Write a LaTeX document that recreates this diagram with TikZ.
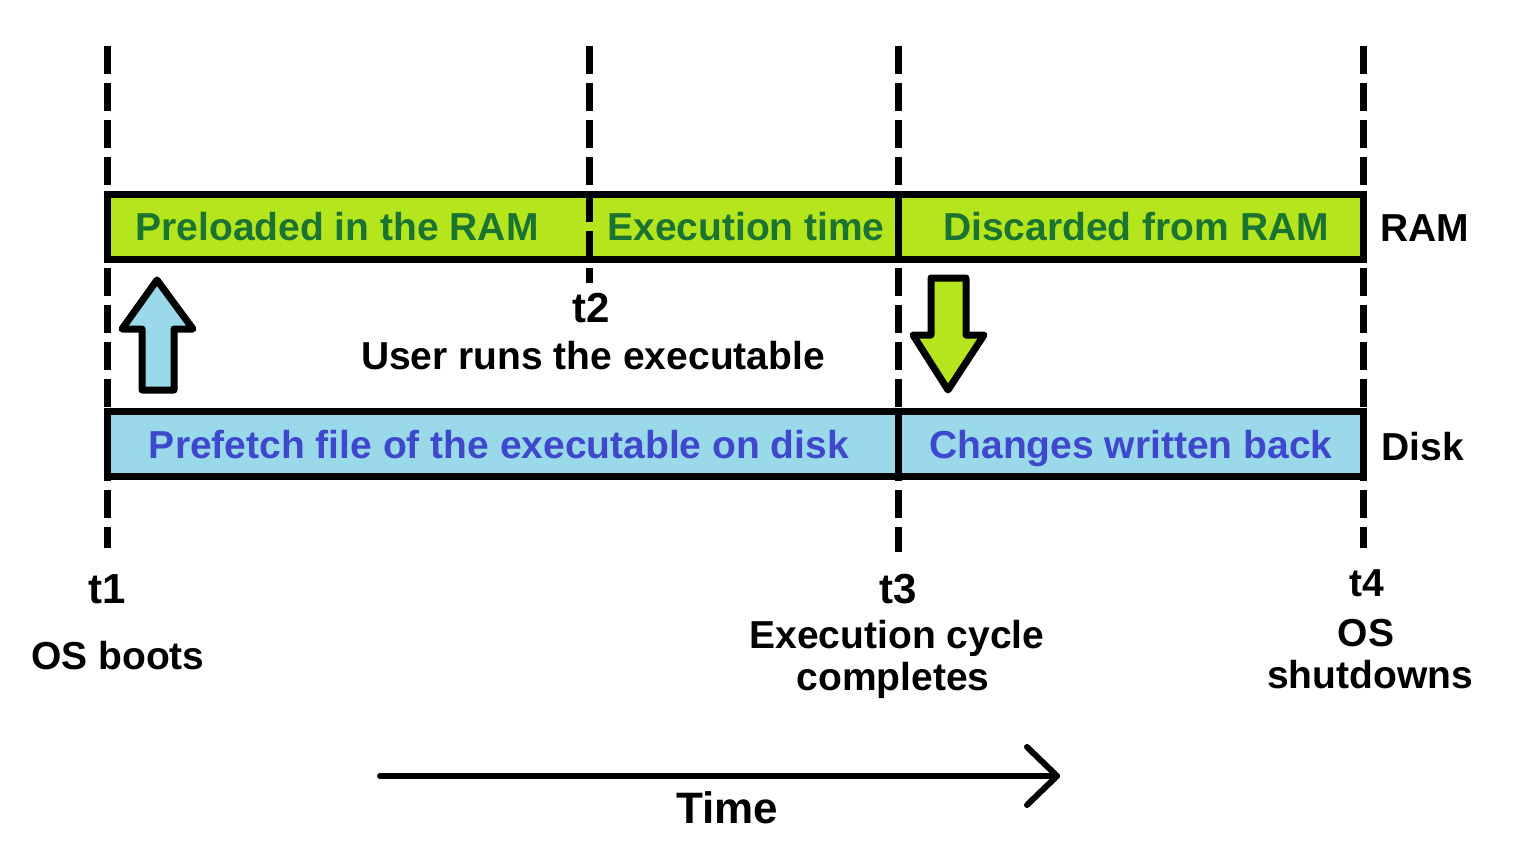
\documentclass[tikz,border=0pt]{standalone}
\usepackage{fontspec}
\setmainfont{Liberation Sans}
\definecolor{lime}{HTML}{B5E61D}
\definecolor{ltblue}{HTML}{99D9EA}
\definecolor{dgreen}{HTML}{1B7332}
\definecolor{indigo}{HTML}{3F48CC}
\begin{document}
\begin{tikzpicture}[x=1pt,y=-1pt,
  bar/.style={draw=black, line width=7pt, minimum height=65pt, inner sep=0pt, outer sep=0pt},
  txt/.style={font=\fontsize{39}{44}\selectfont\bfseries, inner sep=0pt, anchor=base},
  bigtxt/.style={txt, font=\fontsize{42}{46}\selectfont\bfseries},
  vdash/.style={line width=7pt, dash pattern=on 28pt off 9pt},
  divider/.style={line width=7pt},
  blockarrow/.style={draw=black, line width=7pt, line join=round},
  timeline/.style={line width=6pt, line cap=round, line join=round}]
\useasboundingbox (0,0) rectangle (1540,864);
\fill[white] (0,0) rectangle (1540,864);
% bars
\node[bar, fill=lime, minimum width=1256pt] (ram) at (735,226.5) {};
\node[bar, fill=ltblue, minimum width=1256pt] (disk) at (735,443.5) {};
% time markers
\coordinate (t1top) at (107,46);  \coordinate (t1bot) at (107,548);
\coordinate (t2top) at (589,46);  \coordinate (t2bot) at (589,283);
\coordinate (t3top) at (898,46);  \coordinate (t3bot) at (898,552);
\coordinate (t4top) at (1363,46); \coordinate (t4bot) at (1363,548);
\draw[vdash] (t1top) -- (t1bot);
\draw[vdash] (t2top) -- (t2bot);
\draw[vdash] (t3top) -- (t3bot);
\draw[vdash] (t4top) -- (t4bot);
% solid dividers at t3
\draw[divider] (ram.north -| t3top) -- (ram.south -| t3top);
\draw[divider] (disk.north -| t3top) -- (disk.south -| t3top);
% bar texts
\node[txt, text=dgreen] (pre) at (337,240) {Preloaded in the RAM};
\node[txt, text=dgreen] (exe) at (746,240) {Execution time};
\node[txt, text=dgreen] (dis) at (1136,240) {Discarded from RAM};
\node[txt] (ramlbl) at (1425,241) {RAM};
\node[txt, text=indigo] (pf) at (499,458) {Prefetch file of the executable on disk};
\node[txt, text=indigo] (cw) at (1131,458) {Changes written back};
\node[txt] (disklbl) at (1423,460) {Disk};
% time labels
\node[bigtxt] (t2) at (591,322) {t2};
\node[txt] (user) at (593,369) {User runs the executable};
\node[bigtxt] (t1) at (107,603) {t1};
\node[txt] (boot) at (118,669) {OS boots};
\node[bigtxt] (t3) at (898,603) {t3};
\node[txt] (ec) at (897,648) {Execution cycle};
\node[txt] (comp) at (893,690) {completes};
\node[txt] (t4) at (1367,596) {t4};
\node[txt] (os) at (1366,646) {OS};
\node[txt] (shut) at (1370,688) {shutdowns};
% block arrows
\draw[blockarrow, fill=ltblue] (142,390) -- (142,329) -- (122,329) -- (157,280) -- (193,329) -- (174,329) -- (174,390) -- cycle;
\draw[blockarrow, fill=lime] (931,278) -- (966,278) -- (966,335) -- (984,335) -- (948,390) -- (913,335) -- (931,335) -- cycle;
% time arrow
\coordinate (ts) at (380,776);
\coordinate (te) at (1057,776);
\draw[timeline] (ts) -- (te);
\draw[timeline] ([shift={(-30,-29)}]te) -- (te) -- ([shift={(-30,29)}]te);
\node[txt, font=\fontsize{44}{48}\selectfont\bfseries] (time) at (727,823) {Time};
\end{tikzpicture}
\end{document}
